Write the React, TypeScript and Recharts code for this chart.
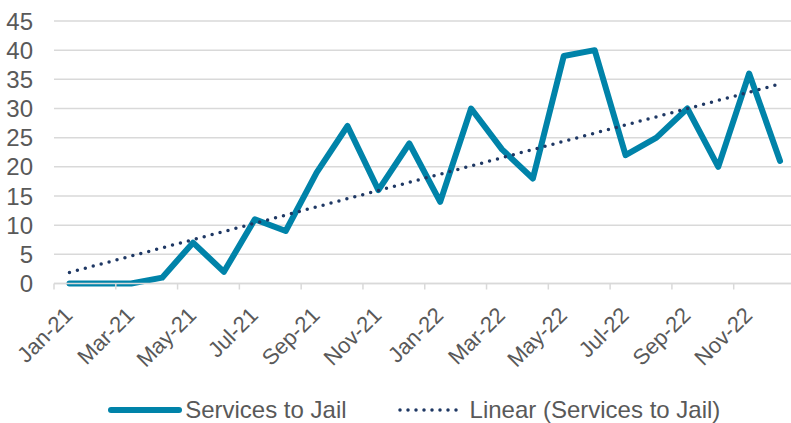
import React from 'react';
import { LineChart, Line, XAxis, YAxis, CartesianGrid, Legend } from 'recharts';

const months = [
  'Jan-21', 'Feb-21', 'Mar-21', 'Apr-21', 'May-21', 'Jun-21', 'Jul-21', 'Aug-21',
  'Sep-21', 'Oct-21', 'Nov-21', 'Dec-21', 'Jan-22', 'Feb-22', 'Mar-22', 'Apr-22',
  'May-22', 'Jun-22', 'Jul-22', 'Aug-22', 'Sep-22', 'Oct-22', 'Nov-22', 'Dec-22',
];
const servicesToJail = [0, 0, 0, 1, 7, 2, 11, 9, 19, 27, 16, 24, 14, 30, 23, 18, 39, 40, 22, 25, 30, 20, 36, 21];
const linearTrend: (number | null)[] = [
  1.9, null, null, null, null, null, null, null, null, null, null, null,
  null, null, null, null, null, null, null, null, null, null, null, 34.2,
];
const yTicks = [0, 5, 10, 15, 20, 25, 30, 35, 40, 45];
const seriesOrder = ['services', 'trend'];

const data = months.map((m, i) => ({ month: m, services: servicesToJail[i], trend: linearTrend[i] }));

const FONT = '"Liberation Sans", Arial, sans-serif';
const TEXT = '#595959';
const GRID = '#D9D9D9';
const LINE = '#0083A9';
const TREND = '#1F3864';
const HALF_BAND = 15.45;

const XTick = (props: any) => {
  const { x, y, payload } = props;
  return (
    <g>
      <line x1={x - HALF_BAND} x2={x - HALF_BAND} y1={y} y2={y + 6} stroke={GRID} strokeWidth={1.5} />
      <text
        transform={`translate(${x + 4.5},${y + 33}) rotate(-45)`}
        textAnchor="end"
        fill={TEXT}
        fontSize={22}
        fontFamily={FONT}
      >
        {payload.value}
      </text>
    </g>
  );
};

const LegendContent = (props: any) => {
  const payload = [...(props.payload || [])].sort(
    (a: any, b: any) => seriesOrder.indexOf(a.dataKey) - seriesOrder.indexOf(b.dataKey)
  );
  return (
    <div
      style={{
        display: 'flex',
        justifyContent: 'center',
        alignItems: 'center',
        height: 26,
        lineHeight: '26px',
        paddingLeft: 33,
        fontFamily: FONT,
        fontSize: 24,
        color: TEXT,
        whiteSpace: 'nowrap',
      }}
    >
      {payload.map((entry: any, i: number) => {
        const dotted = entry.dataKey === 'trend';
        return (
          <div key={i} style={{ display: 'flex', alignItems: 'center', marginLeft: i === 0 ? 0 : 50 }}>
            <svg width={dotted ? 70 : 74} height={10} style={{ marginRight: 3 }}>
              <line
                x1={3}
                x2={dotted ? 67 : 71}
                y1={5}
                y2={5}
                stroke={dotted ? TREND : LINE}
                strokeWidth={dotted ? 3.5 : 6}
                strokeLinecap="round"
                strokeDasharray={dotted ? '0 8' : undefined}
              />
            </svg>
            <span>{entry.value}</span>
          </div>
        );
      })}
    </div>
  );
};

export default function App() {
  return (
    <div style={{ position: 'absolute', left: 0, top: 0, width: 791, height: 423, overflow: 'hidden', background: '#fff' }}>
      <LineChart width={800} height={423} data={data} margin={{ top: 21, right: 4.5, left: 0, bottom: 0 }}>
        <CartesianGrid vertical={false} stroke={GRID} strokeWidth={1.5} />
        <XAxis
          dataKey="month"
          interval={1}
          height={113.5}
          padding={{ left: HALF_BAND, right: HALF_BAND }}
          tickSize={0}
          tickMargin={0}
          tickLine={false}
          axisLine={{ stroke: GRID, strokeWidth: 1.5 }}
          tick={<XTick />}
        />
        <YAxis
          width={54}
          domain={[0, 45]}
          ticks={yTicks}
          interval={0}
          axisLine={false}
          tickLine={false}
          tickMargin={15}
          tick={{ fill: TEXT, fontSize: 24, fontFamily: FONT }}
        />
        <Legend verticalAlign="bottom" content={<LegendContent />} />
        <Line
          dataKey="services"
          name="Services to Jail"
          stroke={LINE}
          strokeWidth={6}
          strokeLinejoin="round"
          strokeLinecap="round"
          dot={false}
          activeDot={false}
          isAnimationActive={false}
        />
        <Line
          dataKey="trend"
          name="Linear (Services to Jail)"
          stroke={TREND}
          strokeWidth={3.5}
          strokeLinecap="round"
          strokeDasharray="0 8.2"
          connectNulls
          dot={false}
          activeDot={false}
          isAnimationActive={false}
        />
      </LineChart>
    </div>
  );
}
